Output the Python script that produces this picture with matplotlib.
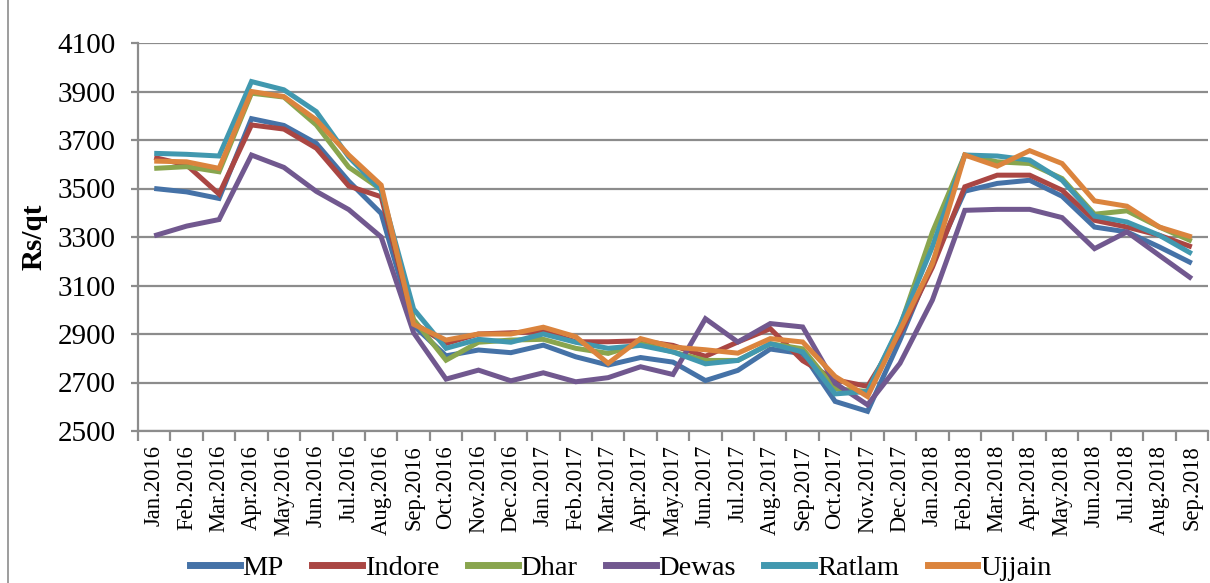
import matplotlib
matplotlib.use("Agg")
import matplotlib.pyplot as plt
from matplotlib.lines import Line2D

months = ["Jan.2016", "Feb.2016", "Mar.2016", "Apr.2016", "May.2016", "Jun.2016",
          "Jul.2016", "Aug.2016", "Sep.2016", "Oct.2016", "Nov.2016", "Dec.2016",
          "Jan.2017", "Feb.2017", "Mar.2017", "Apr.2017", "May.2017", "Jun.2017",
          "Jul.2017", "Aug.2017", "Sep.2017", "Oct.2017", "Nov.2017", "Dec.2017",
          "Jan.2018", "Feb.2018", "Mar.2018", "Apr.2018", "May.2018", "Jun.2018",
          "Jul.2018", "Aug.2018", "Sep.2018"]

mp = [3500, 3486, 3459, 3788, 3760, 3686, 3530, 3397, 2935, 2810, 2834, 2823,
      2854, 2806, 2772, 2803, 2784, 2708, 2750, 2838, 2819, 2622, 2581, 2875,
      3195, 3489, 3521, 3534, 3468, 3341, 3321, 3259, 3192]
indore = [3628, 3597, 3477, 3762, 3745, 3666, 3510, 3466, 2945, 2861, 2900, 2905,
          2910, 2868, 2868, 2872, 2853, 2808, 2867, 2922, 2790, 2711, 2684, 2903,
          3175, 3507, 3555, 3555, 3493, 3369, 3341, 3307, 3259]
dhar = [3583, 3590, 3569, 3893, 3877, 3762, 3588, 3496, 2960, 2792, 2866, 2875,
        2878, 2841, 2820, 2860, 2826, 2791, 2791, 2860, 2839, 2674, 2663, 2930,
        3320, 3638, 3610, 3603, 3541, 3394, 3408, 3341, 3283]
dewas = [3305, 3345, 3372, 3638, 3587, 3488, 3413, 3300, 2905, 2714, 2751, 2707,
         2740, 2703, 2720, 2765, 2733, 2963, 2867, 2943, 2929, 2697, 2608, 2779,
         3040, 3410, 3414, 3414, 3380, 3252, 3321, 3224, 3128]
ratlam = [3645, 3641, 3634, 3941, 3907, 3817, 3630, 3493, 3003, 2841, 2878, 2866,
          2900, 2866, 2841, 2853, 2826, 2777, 2791, 2860, 2826, 2653, 2663, 2937,
          3260, 3638, 3634, 3617, 3534, 3386, 3362, 3307, 3231]
ujjain = [3613, 3610, 3583, 3900, 3879, 3783, 3638, 3514, 2940, 2875, 2900, 2900,
          2928, 2889, 2779, 2881, 2846, 2835, 2821, 2881, 2867, 2725, 2642, 2916,
          3190, 3638, 3592, 3656, 3603, 3449, 3427, 3341, 3300]

series_names = ["MP", "Indore", "Dhar", "Dewas", "Ratlam", "Ujjain"]
series_vals = [mp, indore, dhar, dewas, ratlam, ujjain]
colors = ["#4572A7", "#AA4643", "#89A54E", "#71588F", "#4198AF", "#DB843D"]

yticks = list(range(2500, 4101, 200))

plt.rcParams['font.family'] = ['Liberation Serif', 'DejaVu Serif']

W, H = 1210, 583
fig = plt.figure(figsize=(W / 100, H / 100), dpi=100)
ax = fig.add_axes([138 / W, 1 - 431 / H, (1208 - 138) / W, (431 - 43) / H])

x = list(range(len(months)))
for name, vals, c in zip(series_names, series_vals, colors):
    ax.plot(x, vals, color=c, lw=3.6, label=name, solid_joinstyle='miter',
            solid_capstyle='butt', zorder=3)

ax.set_ylim(2500, 4100)
ax.set_xlim(-0.5, len(months) - 0.5)
ax.set_yticks(yticks)
ax.set_yticklabels([str(v) for v in yticks], fontsize=21)
ax.yaxis.grid(True, color="#8C8C8C", lw=1.6, zorder=0)
ax.set_axisbelow(True)

ax.set_xticks(x)
ax.set_xticklabels(months, rotation=90, fontsize=16.3)
ax.set_xticks([i - 0.5 for i in range(len(months) + 1)], minor=True)
ax.tick_params(axis='x', which='major', length=0, pad=10)
ax.tick_params(axis='x', which='minor', length=7, width=1.6, color="#8C8C8C")
ax.tick_params(axis='y', length=5, width=1.6, color="#8C8C8C", pad=11)

for s in ["top", "right"]:
    ax.spines[s].set_visible(False)
for s in ["left", "bottom"]:
    ax.spines[s].set_color("#8C8C8C")
    ax.spines[s].set_linewidth(1.6)

ax.set_ylabel("Rs/qt", fontsize=21, fontweight='bold', labelpad=7)

handles = [Line2D([0], [0], color=c, lw=5) for c in colors]
fig.legend(handles, series_names, loc='center', bbox_to_anchor=(0.513, 0.026),
           ncol=6, frameon=False, fontsize=20.5, handlelength=1.75,
           handletextpad=0.1, columnspacing=1.0)

fig.add_artist(Line2D([8 / W, 8 / W], [0, 1], color="#8C8C8C", lw=1.2,
                      transform=fig.transFigure))

fig.savefig("out.png", dpi=100)
